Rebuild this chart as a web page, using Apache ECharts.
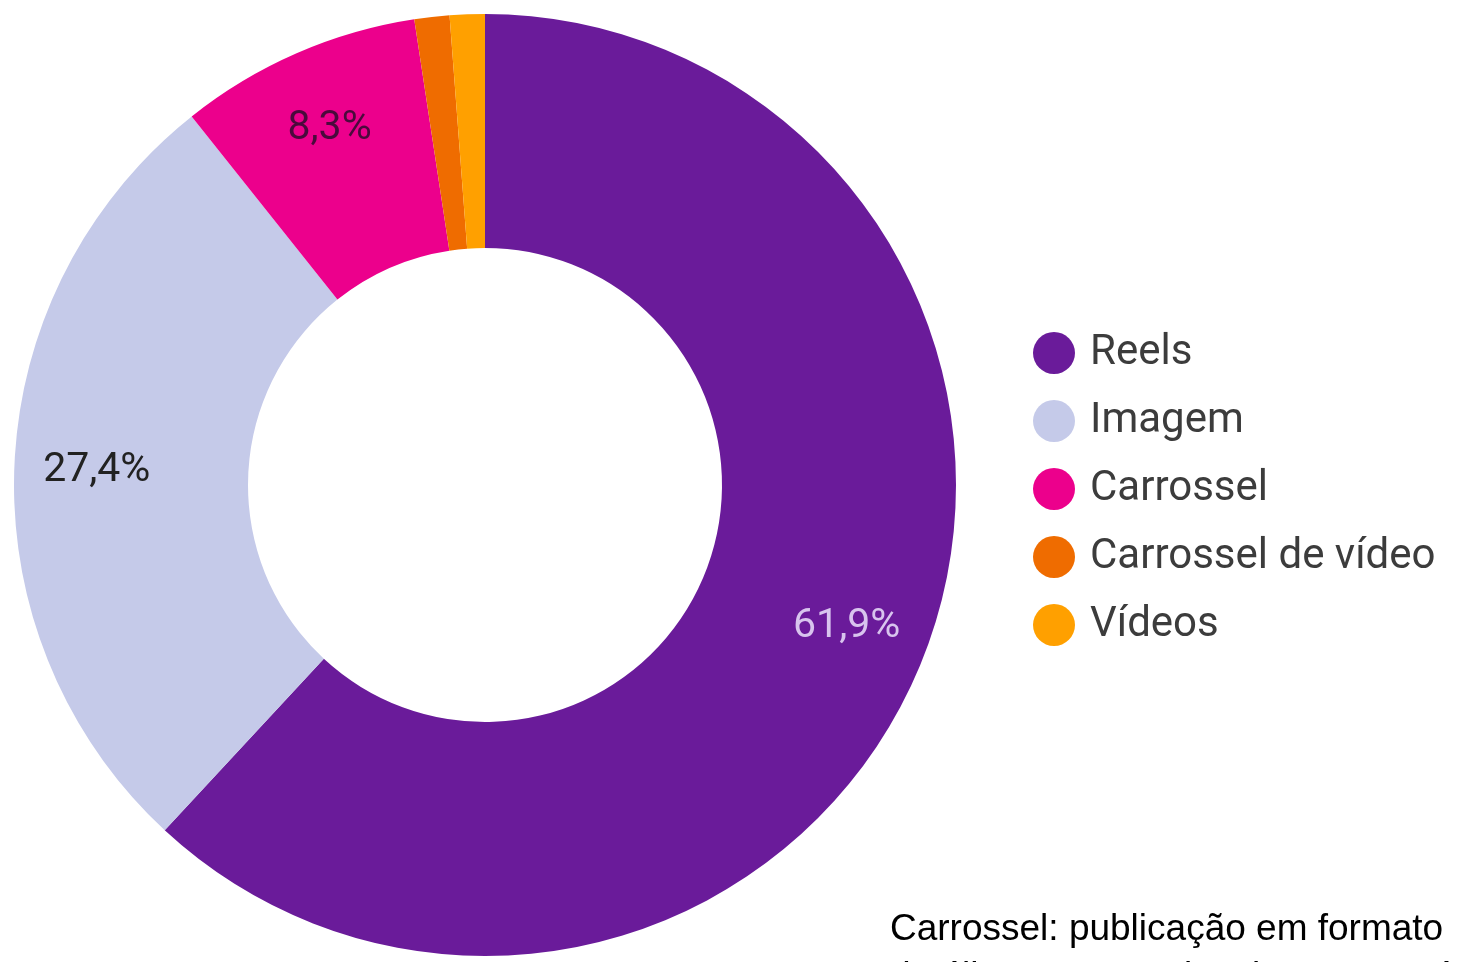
<!DOCTYPE html>
<html>
<head>
<meta charset="utf-8">
<script src="https://cdn.jsdelivr.net/npm/echarts@6/dist/echarts.min.js"></script>
<style>
html,body{margin:0;padding:0;background:#fff;}
#chart{width:1458px;height:962px;}
</style>
</head>
<body>
<div id="chart"></div>
<script>
const categories = ['Reels', 'Imagem', 'Carrossel', 'Carrossel de vídeo', 'Vídeos'];
const values = [61.9, 27.4, 8.3, 1.2, 1.2];
const colors = ['#6a1b9a', '#c5cae9', '#ec008c', '#ef6c00', '#ffa000'];
const labelColors = ['#d8c4ee', '#222222', '#4a0a3c', '#222222', '#222222'];
const showLabel = [true, true, true, false, false];
const noteLines = ['Carrossel: publicação em formato', 'de álbum com muitas imagens até 10'];

const chart = echarts.init(document.getElementById('chart'));
const fmt = v => v.toFixed(1).replace('.', ',') + '%';

const sliceData = categories.map((c, i) => ({
  name: c, value: values[i], itemStyle: { color: colors[i] }
}));
const labelData = categories.map((c, i) => ({
  name: c, value: values[i],
  label: { show: showLabel[i], color: labelColors[i] }
}));

chart.setOption({
  animation: false,
  backgroundColor: '#ffffff',
  legend: {
    orient: 'vertical',
    left: 1028,
    top: 327,
    icon: 'circle',
    itemWidth: 42,
    itemHeight: 42,
    itemGap: 26,
    data: categories,
    textStyle: {
      fontFamily: 'Roboto',
      fontSize: 42,
      lineHeight: 42,
      color: '#3c3c3c',
      padding: [0, 0, 0, 10]
    }
  },
  series: [
    {
      type: 'pie',
      center: [485, 485],
      radius: [237, 471],
      startAngle: 90,
      clockwise: true,
      silent: true,
      label: { show: false },
      labelLine: { show: false },
      itemStyle: { borderWidth: 0 },
      data: sliceData
    },
    {
      type: 'pie',
      center: [485, 485],
      radius: [300, 471],
      startAngle: 90,
      clockwise: true,
      silent: true,
      legendHoverLink: false,
      itemStyle: { color: 'rgba(0,0,0,0)', borderWidth: 0 },
      label: {
        position: 'inside',
        fontFamily: 'Roboto',
        fontSize: 41,
        formatter: p => fmt(p.value)
      },
      labelLine: { show: false },
      data: labelData
    }
  ],
  graphic: [
    {
      type: 'text',
      left: 890,
      top: 906,
      style: {
        text: noteLines.join('\n'),
        fontFamily: 'Liberation Sans, Arial',
        fontSize: 37,
        lineHeight: 48,
        fill: '#000000'
      }
    }
  ]
});
</script>
</body>
</html>
